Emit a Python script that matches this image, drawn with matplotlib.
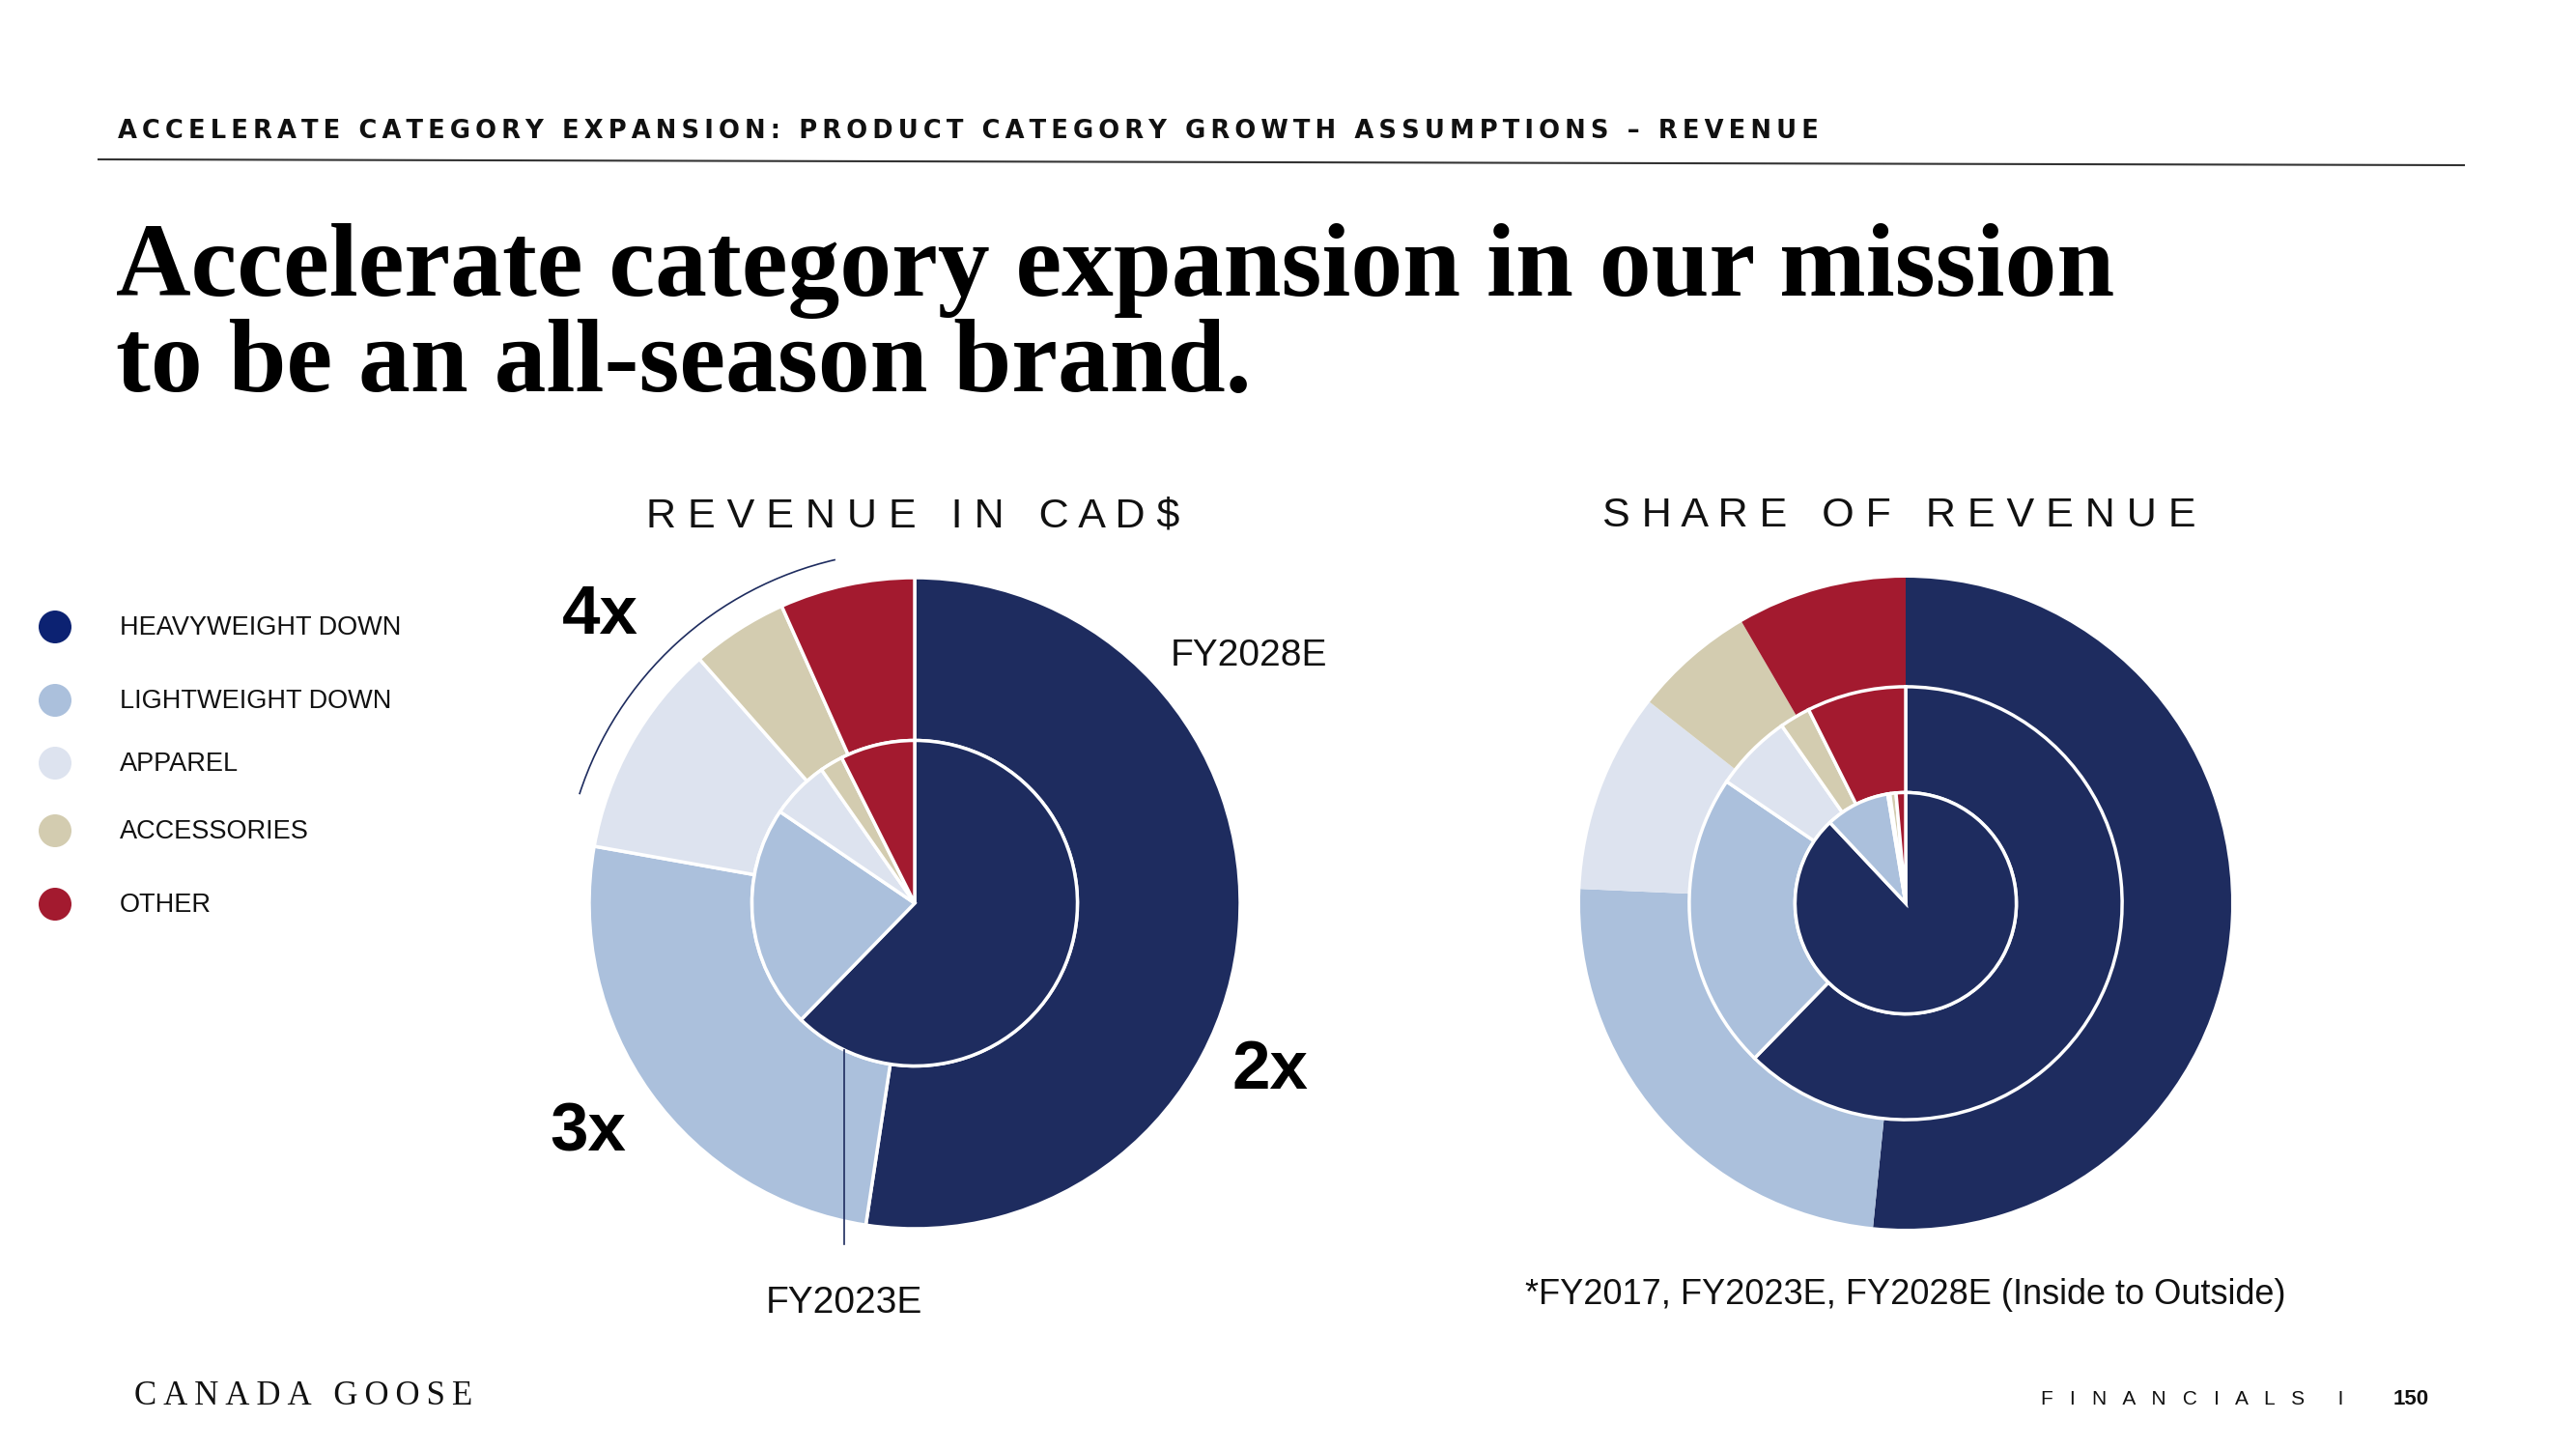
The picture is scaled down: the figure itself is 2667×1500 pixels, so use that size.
import matplotlib.pyplot as plt
from matplotlib.patches import Arc, Ellipse

# data (shares of revenue, %)
categories = ['HEAVYWEIGHT DOWN', 'LIGHTWEIGHT DOWN', 'APPAREL', 'ACCESSORIES', 'OTHER']
fy2017 = [88.0, 9.4, 0.3, 0.9, 1.4]
fy2023 = [62.3, 22.2, 5.8, 2.3, 7.4]
fy2028_rev = [52.4, 25.4, 10.7, 4.8, 6.7]
fy2028_share = [51.6, 24.1, 9.9, 6.0, 8.4]
growth_labels = ['2x', '3x', '4x']

colors = ['#1e2c5f', '#abc0dc', '#dde3ef', '#d3ccb0', '#a31a2f']
legend_colors = ['#0c2272', '#abc0dc', '#dde3ef', '#d3ccb0', '#a31a2f']

W, H = 2667, 1500


def fx(x):
    return x / W


def fy(y):
    return 1 - y / H


fig = plt.figure(figsize=(W / 100, H / 100), dpi=100)
fig.patch.set_facecolor('white')

sans = ['Liberation Sans', 'DejaVu Sans']
serif = ['Liberation Serif', 'DejaVu Serif']

# header
fig.text(fx(122), fy(136), '\u2009'.join('ACCELERATE CATEGORY EXPANSION: PRODUCT CATEGORY GROWTH ASSUMPTIONS \u2013 REVENUE'),
         family=['DejaVu Sans'], weight='bold', fontsize=18.5, va='center', ha='left', color='#111111')
fig.add_artist(plt.Line2D([fx(102), fx(2551)], [fy(165), fy(171)], color='#333333', lw=1.5))

# title
fig.text(fx(120), fy(306), 'Accelerate category expansion in our mission',
         family=serif, weight='bold', fontsize=77.5, va='baseline', ha='left', color='black')
fig.text(fx(120), fy(405), 'to be an all-season brand.',
         family=serif, weight='bold', fontsize=77.5, va='baseline', ha='left', color='black')

# legend
leg_y = [649, 725, 790, 860, 936]
for cat, col, yy in zip(categories, legend_colors, leg_y):
    fig.add_artist(Ellipse((fx(57), fy(yy)), 34 / W, 34 / H, transform=fig.transFigure,
                           facecolor=col, edgecolor='none'))
    fig.text(fx(124), fy(yy + 1), cat, family=sans, fontsize=19.5, va='center', ha='left', color='#111111')

R = 337
box = 2 * 1.2 * R


def pie_axes(cx, cy):
    ax = fig.add_axes([fx(cx - box / 2), fy(cy + box / 2), box / W, box / H])
    return ax


# left chart: revenue in CAD$
ax1 = pie_axes(947, 935)
ax1.pie(fy2028_rev, radius=1.0, colors=colors, startangle=90, counterclock=False,
        wedgeprops=dict(width=0.5, edgecolor='white', linewidth=2.5))
ax1.pie(fy2023, radius=0.5, colors=colors, startangle=90, counterclock=False,
        wedgeprops=dict(edgecolor='white', linewidth=2.5))
ax1.add_patch(Arc((0, 0), 2 * 1.083, 2 * 1.083, theta1=103, theta2=162, color='#1e2c5f', lw=1.2))
ax1.plot([-0.217, -0.217], [-0.452, -1.047], color='#1e2c5f', lw=1.2)
ax1.set_xlim(-1.2, 1.2)
ax1.set_ylim(-1.2, 1.2)
ax1.axis('off')

fig.text(fx(945), fy(534), '   '.join(' '.join(w) for w in 'REVENUE IN CAD$'.split()),
         family=sans, fontsize=31, ha='center', va='center', color='#111111')
fig.text(fx(1293), fy(679), 'FY2028E', family=sans, fontsize=28, ha='center', va='center', color='#111111')
fig.text(fx(874), fy(1349), 'FY2023E', family=sans, fontsize=28, ha='center', va='center', color='#111111')
fig.text(fx(1315), fy(1109), growth_labels[0], family=sans, weight='bold', fontsize=51, ha='center', va='center')
fig.text(fx(609), fy(1174), growth_labels[1], family=sans, weight='bold', fontsize=51, ha='center', va='center')
fig.text(fx(621), fy(638), growth_labels[2], family=sans, weight='bold', fontsize=51, ha='center', va='center')

# right chart: share of revenue
ax2 = pie_axes(1973, 935)
ax2.pie(fy2028_share, radius=1.0, colors=colors, startangle=90, counterclock=False,
        wedgeprops=dict(width=0.335, edgecolor='none'))
ax2.pie(fy2023, radius=0.665, colors=colors, startangle=90, counterclock=False,
        wedgeprops=dict(width=0.325, edgecolor='white', linewidth=2.5))
ax2.pie(fy2017, radius=0.34, colors=colors, startangle=90, counterclock=False,
        wedgeprops=dict(edgecolor='white', linewidth=2.5))
ax2.set_xlim(-1.2, 1.2)
ax2.set_ylim(-1.2, 1.2)
ax2.axis('off')

fig.text(fx(1966), fy(534), '   '.join(' '.join(w) for w in 'SHARE OF REVENUE'.split()),
         family=sans, fontsize=31, ha='center', va='center', color='#111111')
fig.text(fx(1973), fy(1340), '*FY2017, FY2023E, FY2028E (Inside to Outside)',
         family=sans, fontsize=26, ha='center', va='center', color='#111111')

# footer
fig.text(fx(139), fy(1446), '\u2009'.join('CANADA GOOSE'), family=serif, fontsize=25,
         ha='left', va='center', color='#111111')
fig.text(fx(2113), fy(1449), '   '.join('FINANCIALS') + '      I', family=sans, fontsize=15,
         ha='left', va='center', color='#111111')
fig.text(fx(2496), fy(1449), '150', family=sans, weight='bold', fontsize=16,
         ha='center', va='center', color='#111111')

plt.savefig('out.png', dpi=100, facecolor='white')
